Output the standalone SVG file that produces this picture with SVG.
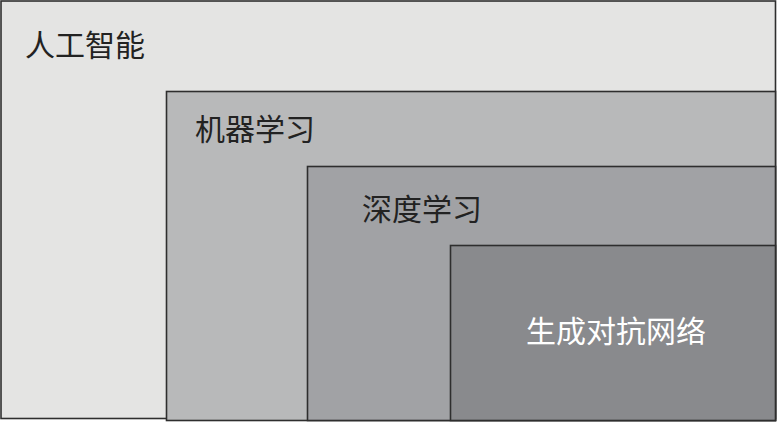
<svg xmlns="http://www.w3.org/2000/svg" width="778" height="424" viewBox="0 0 778 424">
<style>
  .box { stroke: #2e2e2e; stroke-width: 1.6; }
  .lbl { font-family: "Noto Sans CJK SC", "Noto Sans", sans-serif; font-size: 30px; fill: #222; }
  .lbl-w { fill: #ffffff; }
</style>
<rect width="778" height="424" fill="#ffffff"/>
<g id="ai">
  <rect class="box" x="1" y="1" width="774.5" height="417.5" fill="#e4e4e3"/>
  <text class="lbl" x="25" y="56">人工智能</text>
</g>
<g id="ml">
  <rect class="box" x="166.5" y="91.5" width="609" height="329" fill="#b8b9ba"/>
  <text class="lbl" x="195" y="140">机器学习</text>
</g>
<g id="dl">
  <rect class="box" x="307.5" y="166.5" width="468" height="254" fill="#a1a2a5"/>
  <text class="lbl" x="362" y="220">深度学习</text>
</g>
<g id="gan">
  <rect class="box" x="450.5" y="245.5" width="325" height="175" fill="#898a8d"/>
  <text class="lbl lbl-w" x="526" y="342">生成对抗网络</text>
</g>
<g id="connectors"></g>
</svg>
